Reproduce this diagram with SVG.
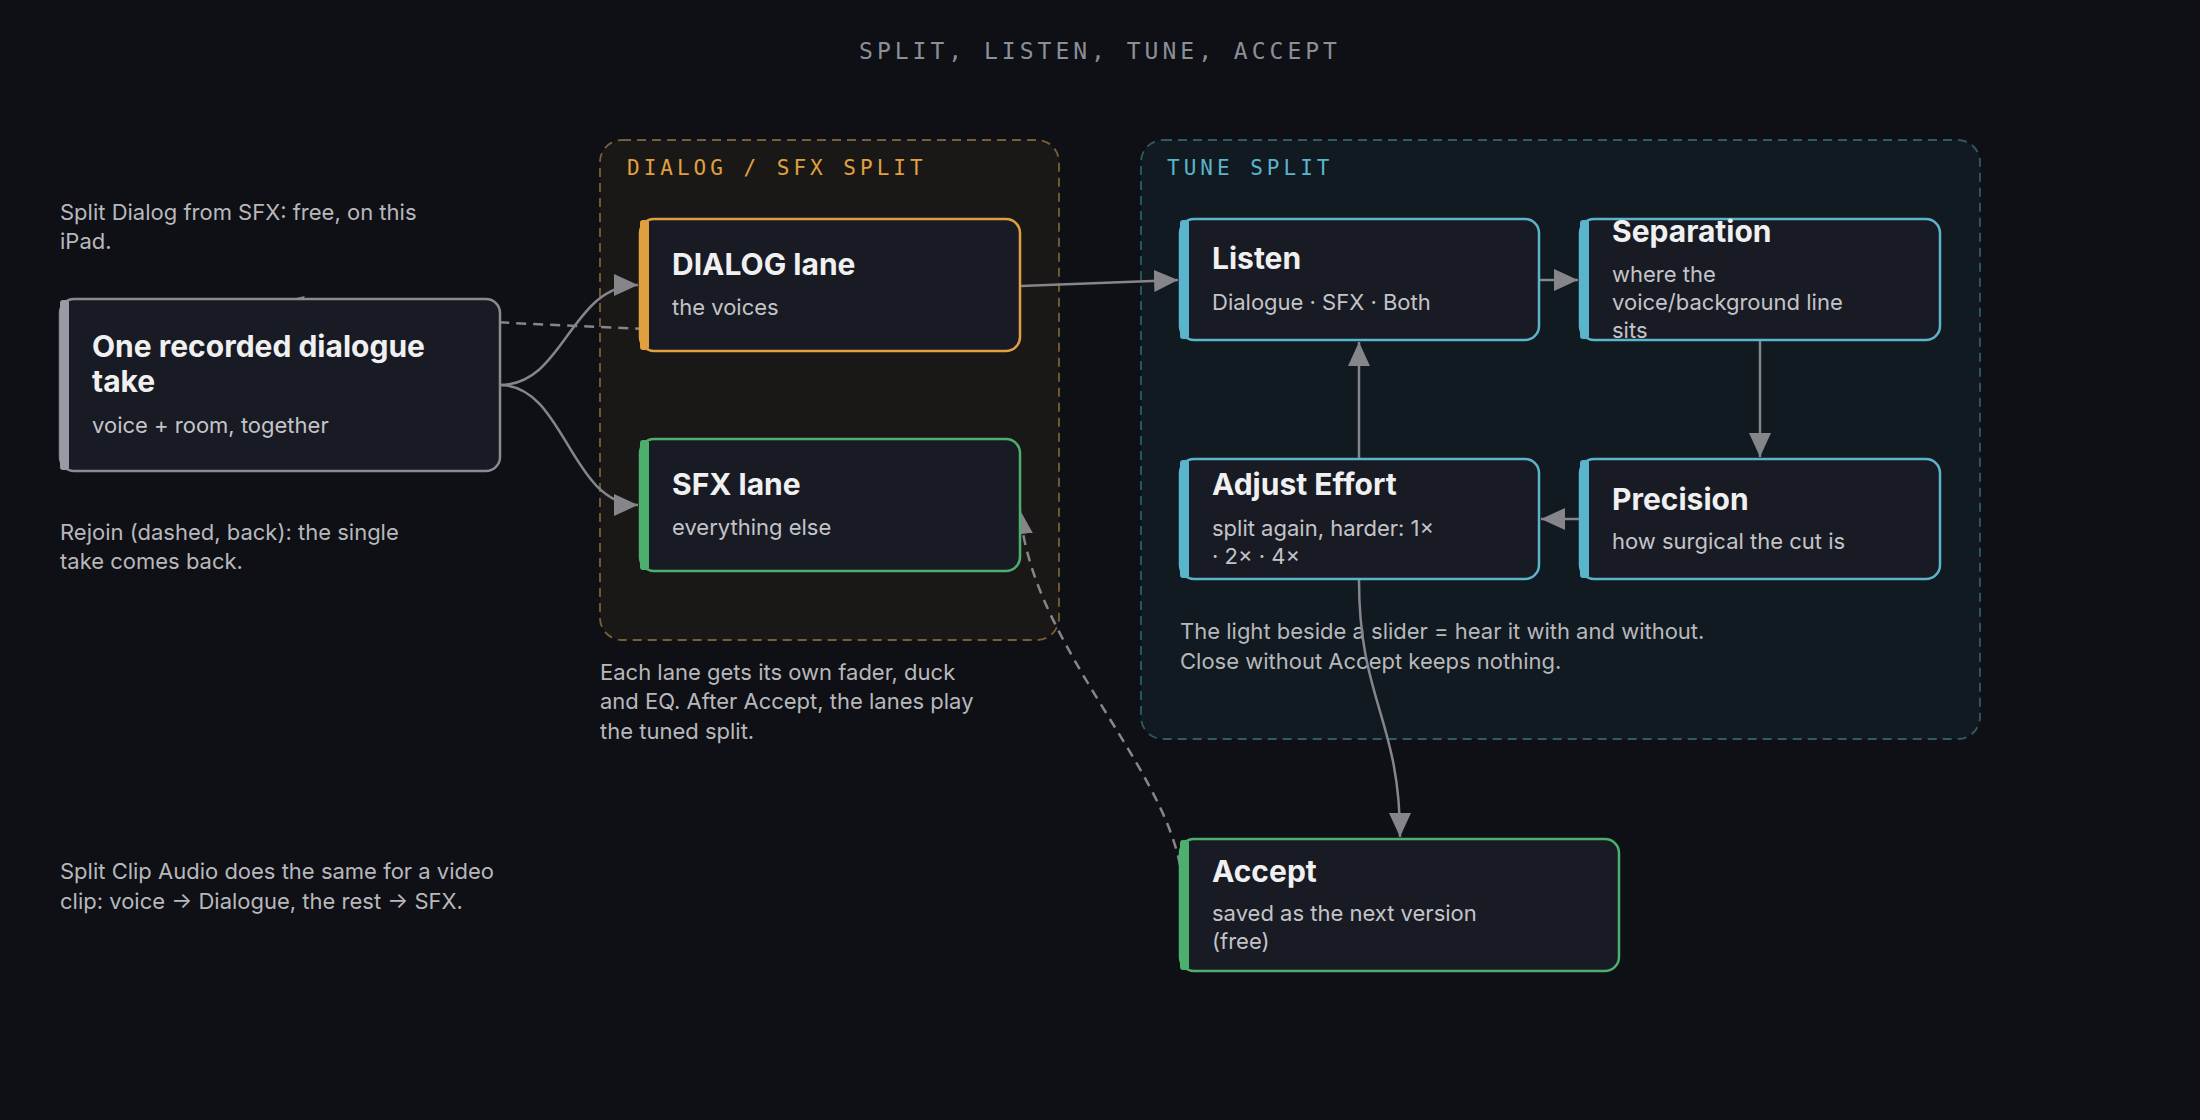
<svg xmlns="http://www.w3.org/2000/svg" width="2200" height="1120" viewBox="0 0 2200 1120">
<defs>
<style>
.t{font-family:"Inter","Liberation Sans",sans-serif;font-size:30px;font-weight:700;fill:#f0f0f0}
.s{font-family:"Inter","Liberation Sans",sans-serif;font-size:22px;fill:#c4c4c8}
.n{font-family:"Inter","Liberation Sans",sans-serif;font-size:22px;fill:#b8b8bc}
.m{font-family:"DejaVu Sans Mono","Liberation Mono",monospace;font-size:21px;letter-spacing:4px}
.box{fill:#181b24;stroke-width:2.5}
.c{fill:none;stroke:#85858a;stroke-width:2.5}
.d{fill:none;stroke:#85858a;stroke-width:2.5;stroke-dasharray:10 7}
</style>
<marker id="a" viewBox="0 0 10 10" refX="9" refY="5" markerWidth="10" markerHeight="10" markerUnits="userSpaceOnUse" orient="auto" style="overflow:visible"><path d="M-14,-6 L10,5 L-14,16 Z" transform="translate(0,0)" fill="#85858a"/></marker>
<marker id="b" viewBox="-24 -12 26 24" refX="0" refY="0" markerWidth="26" markerHeight="24" markerUnits="userSpaceOnUse" orient="auto"><path d="M-24,-11 L0,0 L-24,11 Z" fill="#85858a"/></marker>
</defs>
<rect width="2200" height="1120" fill="#0e1015"/>
<text x="1100" y="59" text-anchor="middle" class="m" style="fill:#8a8f98;font-size:23px">SPLIT, LISTEN, TUNE, ACCEPT</text>

<g id="group-dialog">
<rect x="600" y="140" width="459" height="500" rx="22" fill="#1a1816" stroke="#7a5f35" stroke-width="1.8" stroke-dasharray="9 6"/>
<text x="627" y="175" class="m" style="fill:#e0a040">DIALOG / SFX SPLIT</text>
</g>
<g id="group-tune">
<rect x="1141" y="140" width="839" height="599" rx="22" fill="#111a20" stroke="#2f5a66" stroke-width="1.8" stroke-dasharray="9 6"/>
<text x="1167" y="175" class="m" style="fill:#5ab4cc">TUNE SPLIT</text>
</g>

<g id="notes">
<text class="n" x="60" y="220">Split Dialog from SFX: free, on this</text>
<text class="n" x="60" y="249">iPad.</text>
<text class="n" x="60" y="540">Rejoin (dashed, back): the single</text>
<text class="n" x="60" y="569">take comes back.</text>
<text class="n" x="600" y="680">Each lane gets its own fader, duck</text>
<text class="n" x="600" y="709">and EQ. After Accept, the lanes play</text>
<text class="n" x="600" y="739">the tuned split.</text>
<text class="n" x="60" y="879">Split Clip Audio does the same for a video</text>
<text class="n" x="60" y="909">clip: voice → Dialogue, the rest → SFX.</text>
<text class="n" x="1180" y="639">The light beside a slider = hear it with and without.</text>
<text class="n" x="1180" y="669">Close without Accept keeps nothing.</text>
</g>

<g id="connectors">
<path class="c" d="M500,385 C565,385 570,285 638,285" marker-end="url(#b)"/>
<path class="c" d="M500,385 C565,385 570,505 638,505" marker-end="url(#b)"/>
<path class="c" d="M1021,286 L1178,280" marker-end="url(#b)"/>
<path class="c" d="M1540,280 L1578,280" marker-end="url(#b)"/>
<path class="c" d="M1760,341 L1760,457" marker-end="url(#b)"/>
<path class="c" d="M1579,519 L1541,519" marker-end="url(#b)"/>
<path class="c" d="M1359,459 L1359,342" marker-end="url(#b)"/>
<path class="c" d="M1359,580 C1359,700 1400,720 1400,837" marker-end="url(#b)"/>
<path class="d" d="M1180,865 C1160,760 1030,640 1020,510" marker-end="url(#b)"/>
<path class="d" d="M830,349 C810,325 420,330 279,302" marker-end="url(#b)"/>
</g>

<g id="node-take">
<rect class="box" x="60" y="299" width="440" height="172" rx="14" stroke="#8a8a90"/>
<rect x="60" y="300" width="9" height="170" rx="3" fill="#9a9aa5"/>
<text class="t" x="92" y="357">One recorded dialogue</text>
<text class="t" x="92" y="392">take</text>
<text class="s" x="92" y="433">voice + room, together</text>
</g>
<g id="node-dialog">
<rect class="box" x="640" y="219" width="380" height="132" rx="14" stroke="#e0a040"/>
<rect x="640" y="220" width="9" height="130" rx="3" fill="#e0a040"/>
<text class="t" x="672" y="275">DIALOG lane</text>
<text class="s" x="672" y="315">the voices</text>
</g>
<g id="node-sfx">
<rect class="box" x="640" y="439" width="380" height="132" rx="14" stroke="#4caf6e"/>
<rect x="640" y="440" width="9" height="130" rx="3" fill="#4caf6e"/>
<text class="t" x="672" y="495">SFX lane</text>
<text class="s" x="672" y="535">everything else</text>
</g>
<g id="node-listen">
<rect class="box" x="1180" y="219" width="359" height="121" rx="14" stroke="#5ab4cc"/>
<rect x="1180" y="220" width="9" height="119" rx="3" fill="#5ab4cc"/>
<text class="t" x="1212" y="269">Listen</text>
<text class="s" x="1212" y="310">Dialogue · SFX · Both</text>
</g>
<g id="node-separation">
<rect class="box" x="1580" y="219" width="360" height="121" rx="14" stroke="#5ab4cc"/>
<rect x="1580" y="220" width="9" height="119" rx="3" fill="#5ab4cc"/>
<text class="t" x="1612" y="242">Separation</text>
<text class="s" x="1612" y="282">where the</text>
<text class="s" x="1612" y="310">voice/background line</text>
<text class="s" x="1612" y="338">sits</text>
</g>
<g id="node-adjust">
<rect class="box" x="1180" y="459" width="359" height="120" rx="14" stroke="#5ab4cc"/>
<rect x="1180" y="460" width="9" height="118" rx="3" fill="#5ab4cc"/>
<text class="t" x="1212" y="495">Adjust Effort</text>
<text class="s" x="1212" y="536">split again, harder: 1×</text>
<text class="s" x="1212" y="564">· 2× · 4×</text>
</g>
<g id="node-precision">
<rect class="box" x="1580" y="459" width="360" height="120" rx="14" stroke="#5ab4cc"/>
<rect x="1580" y="460" width="9" height="118" rx="3" fill="#5ab4cc"/>
<text class="t" x="1612" y="510">Precision</text>
<text class="s" x="1612" y="549">how surgical the cut is</text>
</g>
<g id="node-accept">
<rect class="box" x="1180" y="839" width="439" height="132" rx="14" stroke="#4caf6e"/>
<rect x="1180" y="840" width="9" height="130" rx="3" fill="#4caf6e"/>
<text class="t" x="1212" y="882">Accept</text>
<text class="s" x="1212" y="921">saved as the next version</text>
<text class="s" x="1212" y="949">(free)</text>
</g>
</svg>
